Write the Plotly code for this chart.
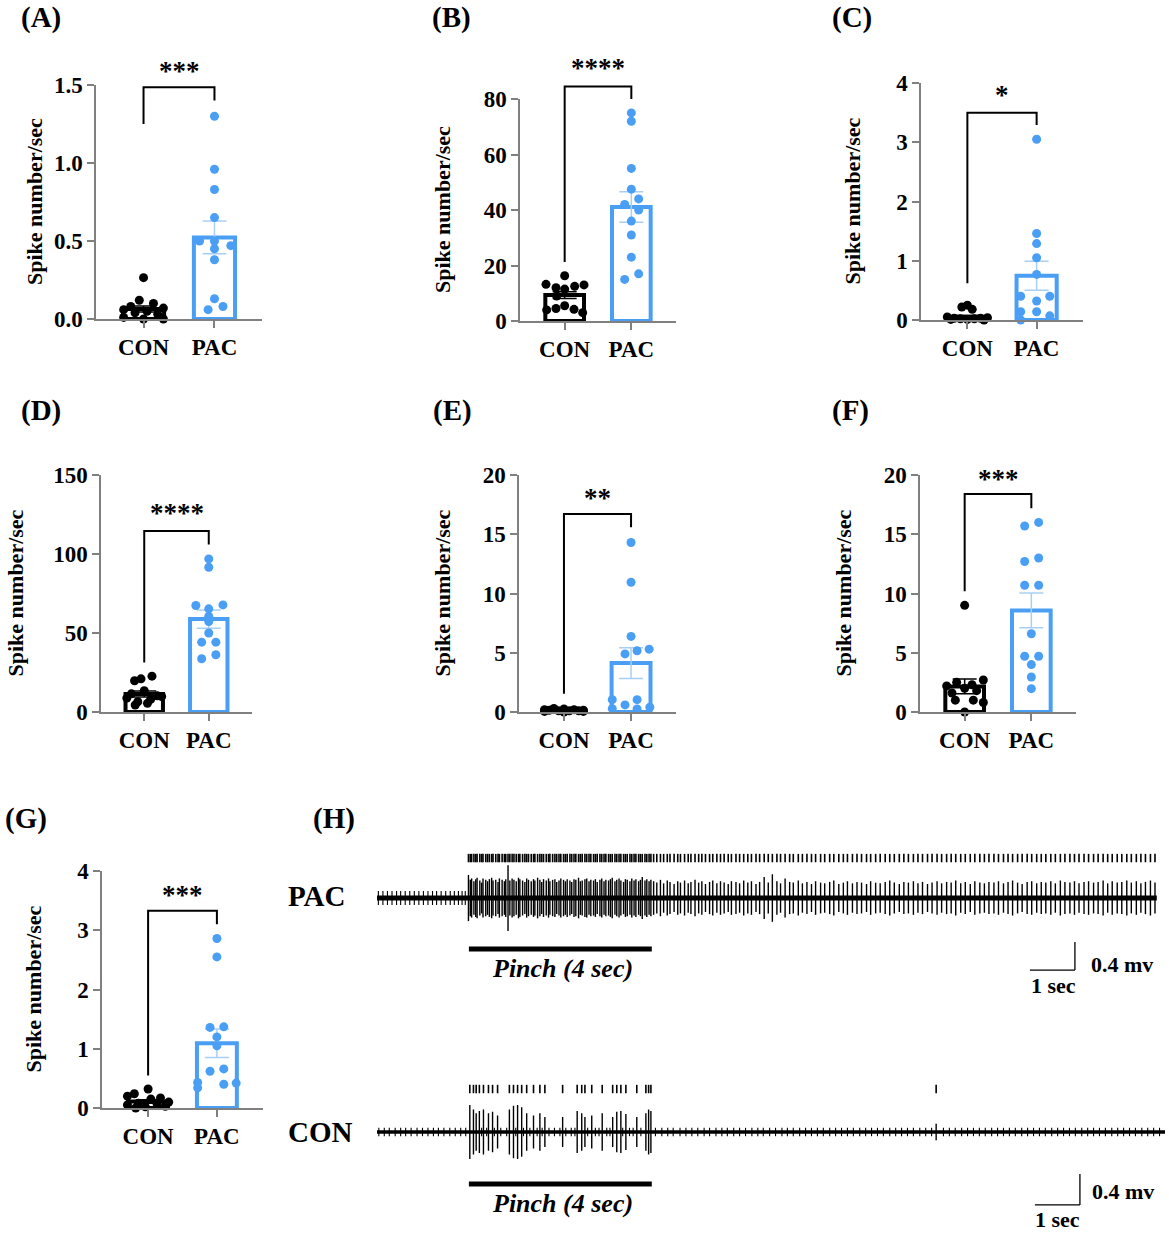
import plotly.graph_objects as go

W, H = 1169, 1233
FONT = "Liberation Serif"
BLUE = "#4a9ff5"
BLUE_ERR = "#a9cff5"
GREY = "#808080"

# ---------------- bar panels: values ----------------
GROUPS = ["CON", "PAC"]

A_CON = [0.265, 0.12, 0.10, 0.08, 0.07, 0.06, 0.05, 0.04, 0.03, 0.01, 0.0, 0.0]
A_PAC = [1.30, 0.96, 0.83, 0.65, 0.50, 0.50, 0.47, 0.45, 0.38, 0.13, 0.08, 0.06]
A_MEAN = [0.064, 0.523]
A_SEM = [0.019, 0.105]
A_TICKS = [0, 0.5, 1.0, 1.5]

B_CON = [16.3, 13.2, 13.0, 12.5, 12.0, 11.5, 9.0, 5.5, 4.5, 4.2, 4.0, 3.0]
B_PAC = [75.0, 72.0, 55.0, 47.5, 44.0, 42.0, 40.0, 36.0, 31.0, 23.0, 17.0, 15.0]
B_MEAN = [9.35, 41.1]
B_SEM = [1.2, 5.5]
B_TICKS = [0, 20, 40, 60, 80]

C_CON = [0.25, 0.22, 0.18, 0.05, 0.04, 0.03, 0.03, 0.02, 0.02, 0.01, 0.01, 0.0]
C_PAC = [3.05, 1.46, 1.29, 1.05, 0.77, 0.40, 0.40, 0.32, 0.14, 0.14, 0.07, 0.0]
C_MEAN = [0.056, 0.747]
C_SEM = [0.022, 0.245]
C_TICKS = [0, 1, 2, 3, 4]

D_CON = [22.7, 21.0, 19.8, 13.5, 11.5, 10.3, 9.8, 8.8, 8.0, 6.5, 5.5, 4.4]
D_PAC = [96.9, 91.6, 67.8, 67.4, 65.3, 60.5, 57.3, 50.0, 44.2, 44.2, 36.2, 33.7]
D_MEAN = [11.4, 58.8]
D_SEM = [1.9, 5.8]
D_TICKS = [0, 50, 100, 150]

E_CON = [0.30, 0.25, 0.20, 0.20, 0.15, 0.15, 0.10, 0.10, 0.10, 0.05, 0.05, 0.0]
E_PAC = [14.3, 10.95, 6.38, 5.3, 5.17, 4.9, 1.04, 1.04, 0.6, 0.28, 0.25, 0.4]
E_MEAN = [0.13, 4.13]
E_SEM = [0.03, 1.3]
E_TICKS = [0, 5, 10, 15, 20]

F_CON = [9.0, 2.7, 2.5, 2.3, 2.2, 2.0, 1.8, 1.6, 1.0, 1.0, 0.8, 0.0]
F_PAC = [16.0, 15.7, 13.0, 12.7, 10.7, 10.7, 6.6, 4.7, 4.7, 4.0, 2.95, 1.97]
F_MEAN = [2.16, 8.57]
F_SEM = [0.62, 1.47]
F_TICKS = [0, 5, 10, 15, 20]

G_CON = [0.32, 0.24, 0.20, 0.17, 0.15, 0.10, 0.08, 0.07, 0.05, 0.03, 0.02, 0.0]
G_PAC = [2.86, 2.55, 1.37, 1.36, 1.20, 1.05, 0.66, 0.62, 0.43, 0.42, 0.40, 0.34]
G_MEAN = [0.11, 1.094]
G_SEM = [0.03, 0.24]
G_TICKS = [0, 1, 2, 3, 4]

# significance: stars and bracket [left foot, top, right foot, star height]
STARS = {"A": "***", "B": "****", "C": "*", "D": "****", "E": "**", "F": "***", "G": "***"}
A_BRACKET = [1.25, 1.485, 1.40, 1.59]
B_BRACKET = [21.3, 84.5, 80.0, 91.0]
C_BRACKET = [0.62, 3.5, 3.29, 3.8]
D_BRACKET = [31.4, 114.6, 106.0, 126.0]
E_BRACKET = [1.55, 16.7, 15.6, 18.1]
F_BRACKET = [10.2, 18.4, 17.2, 19.7]
G_BRACKET = [0.55, 3.33, 3.1, 3.6]

# horizontal scatter of the dots (category units)
A_CON_DX = [0, -0.06, 0.14, -0.18, 0.28, -0.28, 0.05, -0.12, 0.2, -0.28, 0.0, 0.28]
A_PAC_DX = [0, 0, 0, 0, -0.21, 0, 0.23, 0, 0, 0, 0.12, -0.09]
B_CON_DX = [0, -0.28, 0.29, 0.15, -0.13, 0.0, -0.12, 0.0, -0.13, 0.14, -0.27, 0.27]
B_PAC_DX = [0, 0, 0, 0, 0.11, -0.1, 0.11, 0, 0, 0, 0.11, -0.1]
C_CON_DX = [0, -0.08, 0.07, -0.29, 0.29, -0.19, 0.19, -0.1, 0.1, 0.0, -0.24, 0.24]
C_PAC_DX = [0, 0, 0, 0, 0, -0.23, 0.19, 0, -0.23, 0, 0.19, -0.23]
D_CON_DX = [0.12, -0.05, -0.15, 0.0, -0.2, 0.2, 0.27, -0.27, 0.1, -0.1, 0.05, -0.14]
D_PAC_DX = [0, 0, 0.22, -0.2, 0, 0, 0, 0, -0.11, 0.11, 0.11, -0.11]
E_CON_DX = [-0.15, 0.0, -0.29, 0.15, 0.29, -0.22, 0.08, -0.08, 0.22, -0.29, 0.29, 0.0]
E_PAC_DX = [0, 0, 0, 0.27, 0.09, -0.09, -0.28, 0.09, -0.09, -0.28, 0.09, 0.28]
F_CON_DX = [0, 0.28, -0.12, 0.11, -0.27, 0, 0.18, -0.19, -0.14, 0.13, 0.28, 0]
F_PAC_DX = [0.11, -0.1, 0.11, -0.1, -0.1, 0.11, 0, -0.1, 0.11, 0, 0, 0]
G_CON_DX = [0, -0.2, -0.3, 0.18, 0.04, 0.3, -0.14, 0.13, -0.3, 0.25, -0.04, -0.18]
G_PAC_DX = [0, 0, 0.1, -0.1, 0, 0, 0.1, -0.1, -0.28, 0.28, 0.1, -0.28]

# ---------------- panel H: spike recordings (seconds, mV) ----------------
PINCH = [2.02, 6.04]
PAC_END = 17.14
CON_END = 17.32

PAC_NOISE_T = [0.03, 0.13, 0.23, 0.33, 0.43, 0.52, 0.62, 0.72, 0.82, 0.92, 1.02,
               1.12, 1.22, 1.31, 1.41, 1.51, 1.61, 1.70, 1.79, 1.87, 1.94]
PAC_PINCH_T = [2.01, 2.05, 2.08, 2.13, 2.17, 2.20, 2.26, 2.30, 2.33, 2.39,
               2.43, 2.47, 2.52, 2.55, 2.61, 2.66, 2.69, 2.75, 2.80, 2.83,
               2.88, 2.92, 2.97, 3.01, 3.06, 3.11, 3.14, 3.20, 3.25, 3.29,
               3.33, 3.39, 3.44, 3.47, 3.53, 3.58, 3.62, 3.66, 3.72, 3.77,
               3.80, 3.86, 3.91, 3.95, 4.00, 4.04, 4.10, 4.14, 4.18, 4.24,
               4.28, 4.33, 4.37, 4.43, 4.47, 4.51, 4.57, 4.61, 4.66, 4.70,
               4.76, 4.80, 4.84, 4.90, 4.94, 4.99, 5.03, 5.09, 5.13, 5.17,
               5.23, 5.27, 5.32, 5.36, 5.42, 5.46, 5.50, 5.56, 5.60, 5.65,
               5.69, 5.75, 5.79, 5.83, 5.89, 5.93, 5.98, 6.02]
PAC_PINCH_AMP = [0.33, 0.26, 0.28, 0.24, 0.27, 0.29, 0.25, 0.22, 0.28, 0.26,
                 0.24, 0.27, 0.29, 0.25, 0.26, 0.23, 0.28, 0.26, 0.24, 0.27,
                 0.47, 0.25, 0.28, 0.26, 0.24, 0.29, 0.27, 0.25, 0.23, 0.28,
                 0.26, 0.24, 0.27, 0.25, 0.29, 0.26, 0.23, 0.27, 0.25, 0.28,
                 0.24, 0.26, 0.27, 0.23, 0.25, 0.28, 0.26, 0.24, 0.27, 0.25,
                 0.23, 0.27, 0.26, 0.29, 0.24, 0.25, 0.27, 0.28, 0.24, 0.26,
                 0.25, 0.27, 0.23, 0.26, 0.28, 0.24, 0.26, 0.25, 0.27, 0.29,
                 0.24, 0.26, 0.28, 0.25, 0.23, 0.27, 0.26, 0.24, 0.28, 0.25,
                 0.27, 0.24, 0.26, 0.30, 0.25, 0.27, 0.24, 0.26]
PAC_POST_T = [6.08, 6.15, 6.23, 6.30, 6.38, 6.44, 6.53, 6.61, 6.67, 6.76,
              6.84, 6.90, 6.99, 7.07, 7.14, 7.22, 7.31, 7.38, 7.47, 7.55,
              7.63, 7.72, 7.79, 7.89, 7.97, 8.06, 8.15, 8.23, 8.33, 8.41,
              8.51, 8.60, 8.69, 8.79, 8.87, 8.97, 9.07, 9.15, 9.26, 9.35,
              9.45, 9.55, 9.64, 9.75, 9.84, 9.95, 10.04, 10.15, 10.25, 10.34,
              10.45, 10.55, 10.65, 10.76, 10.85, 10.96, 11.06, 11.17, 11.27, 11.37,
              11.48, 11.58, 11.68, 11.79, 11.89, 11.99, 12.10, 12.20, 12.31, 12.41,
              12.52, 12.62, 12.72, 12.83, 12.93, 13.04, 13.14, 13.25, 13.35, 13.45,
              13.56, 13.66, 13.77, 13.87, 13.97, 14.08, 14.18, 14.29, 14.39, 14.50,
              14.60, 14.70, 14.81, 14.91, 15.02, 15.12, 15.23, 15.33, 15.43, 15.54,
              15.64, 15.75, 15.85, 15.96, 16.06, 16.16, 16.27, 16.37, 16.48, 16.58,
              16.69, 16.79, 16.89, 17.00, 17.10]
PAC_POST_AMP = [0.24, 0.22, 0.26, 0.21, 0.25, 0.23, 0.20, 0.24, 0.22, 0.25,
                0.21, 0.23, 0.26, 0.22, 0.24, 0.20, 0.23, 0.25, 0.21, 0.24,
                0.22, 0.20, 0.24, 0.23, 0.21, 0.25, 0.22, 0.24, 0.20, 0.23,
                0.30, 0.22, 0.34, 0.24, 0.21, 0.28, 0.23, 0.22, 0.25, 0.21,
                0.23, 0.20, 0.24, 0.22, 0.21, 0.23, 0.25, 0.20, 0.22, 0.24,
                0.21, 0.23, 0.22, 0.20, 0.24, 0.22, 0.21, 0.23, 0.25, 0.22,
                0.20, 0.23, 0.22, 0.24, 0.21, 0.23, 0.20, 0.22, 0.24, 0.21,
                0.23, 0.22, 0.25, 0.21, 0.23, 0.20, 0.24, 0.22, 0.21, 0.23,
                0.22, 0.24, 0.21, 0.23, 0.25, 0.22, 0.20, 0.23, 0.24, 0.21,
                0.23, 0.22, 0.24, 0.21, 0.25, 0.23, 0.22, 0.24, 0.21, 0.23,
                0.24, 0.22, 0.23, 0.25, 0.21, 0.24, 0.22, 0.23, 0.25, 0.22,
                0.24, 0.21, 0.23, 0.25, 0.22]

CON_NOISE_T = [0.04, 0.16, 0.27, 0.40, 0.52, 0.63, 0.75, 0.88, 1.00, 1.12, 1.24, 1.35,
               1.47, 1.60, 1.72, 1.84, 1.95,
               2.30, 2.41, 2.58, 2.72, 2.85, 3.05, 3.22, 3.36, 3.52, 3.63, 3.78, 3.90,
               4.02, 4.15, 4.27, 4.35, 4.63, 4.80, 4.88, 5.05, 5.12, 5.40, 5.55, 5.63, 5.80,
               6.12, 6.26, 6.39, 6.51, 6.66, 6.79, 6.92, 7.05, 7.19, 7.31, 7.45, 7.58,
               7.70, 7.84, 7.97, 8.10, 8.24, 8.37, 8.49, 8.63, 8.76, 8.90, 9.02, 9.15,
               9.29, 9.42, 9.55, 9.68, 9.81, 9.95, 10.08, 10.21, 10.34, 10.47, 10.61,
               10.74, 10.87, 11.00, 11.13, 11.27, 11.40, 11.53, 11.66, 11.79, 11.93,
               12.06, 12.19, 12.45, 12.58, 12.71, 12.85, 12.98, 13.11, 13.24, 13.37,
               13.51, 13.64, 13.77, 13.90, 14.03, 14.17, 14.30, 14.43, 14.56, 14.69,
               14.83, 14.96, 15.09, 15.22, 15.35, 15.49, 15.62, 15.75, 15.88, 16.01,
               16.15, 16.28, 16.41, 16.54, 16.67, 16.81, 16.94, 17.07, 17.20]
CON_SPIKE_T = [2.04, 2.12, 2.18, 2.25, 2.34, 2.45, 2.54, 2.65, 2.91, 3.00,
               3.09, 3.18, 3.29, 3.44, 3.58, 3.69, 4.08, 4.40, 4.50, 4.57,
               4.72, 4.95, 5.18, 5.27, 5.36, 5.47, 5.71, 5.91, 5.97, 6.02, 12.29]
CON_SPIKE_AMP = [0.36, 0.30, 0.25, 0.28, 0.30, 0.25, 0.27, 0.22, 0.30, 0.35,
                 0.36, 0.33, 0.25, 0.22, 0.25, 0.20, 0.20, 0.28, 0.25, 0.20,
                 0.22, 0.25, 0.20, 0.27, 0.28, 0.24, 0.20, 0.25, 0.30, 0.28, 0.11]

# ---------------- layout geometry (pixels of the 1169 x 1233 page) ----------------
BOX = {  # y-axis x, x-axis end, top tick y, zero y
    "A": (96, 262, 85, 319), "B": (520, 676, 99, 321), "C": (921, 1083, 83, 320),
    "D": (101, 252, 475, 712), "E": (519, 676, 475, 712), "F": (920, 1076, 475, 712),
    "G": (102, 263, 871, 1108),
}
YTITLE_X = {"A": 35, "B": 442, "C": 852, "D": 15, "E": 442, "F": 843, "G": 33}
LETTER_POS = {"A": (41, 18), "B": (451, 18), "C": (852, 18), "D": (41, 411),
              "E": (452, 411), "F": (851, 411), "G": (26, 818), "H": (334, 818)}
XRANGE = [-0.67, 1.67]


def xp(px):
    return px / W


def yp(px):
    return 1 - px / H


def bold(size):
    return dict(family=FONT, size=size, color="black", weight="bold")


panels = [
    ("A", A_CON, A_PAC, A_CON_DX, A_PAC_DX, A_MEAN, A_SEM, A_TICKS, A_BRACKET),
    ("B", B_CON, B_PAC, B_CON_DX, B_PAC_DX, B_MEAN, B_SEM, B_TICKS, B_BRACKET),
    ("C", C_CON, C_PAC, C_CON_DX, C_PAC_DX, C_MEAN, C_SEM, C_TICKS, C_BRACKET),
    ("D", D_CON, D_PAC, D_CON_DX, D_PAC_DX, D_MEAN, D_SEM, D_TICKS, D_BRACKET),
    ("E", E_CON, E_PAC, E_CON_DX, E_PAC_DX, E_MEAN, E_SEM, E_TICKS, E_BRACKET),
    ("F", F_CON, F_PAC, F_CON_DX, F_PAC_DX, F_MEAN, F_SEM, F_TICKS, F_BRACKET),
    ("G", G_CON, G_PAC, G_CON_DX, G_PAC_DX, G_MEAN, G_SEM, G_TICKS, G_BRACKET),
]

fig = go.Figure()
layout = {}
shapes = []
annotations = []

for i, (key, con, pac, con_dx, pac_dx, mean, sem, ticks, br) in enumerate(panels, start=1):
    sfx = "" if i == 1 else str(i)
    xa, ya = "x" + sfx, "y" + sfx
    x0, x1, ytop, y0 = BOX[key]
    top = ticks[-1]
    colors = ["black", BLUE]
    errc = ["black", BLUE_ERR]
    for g in range(2):
        fig.add_trace(go.Bar(
            x=[g], y=[mean[g]], width=0.58, xaxis=xa, yaxis=ya,
            marker=dict(color="white", line=dict(color=colors[g], width=4)),
            error_y=dict(type="data", array=[sem[g]], color=errc[g], thickness=1.5, width=12),
            showlegend=False, hoverinfo="skip"))
    fig.add_trace(go.Scatter(
        x=[0 + d for d in con_dx], y=con, mode="markers", xaxis=xa, yaxis=ya,
        marker=dict(color="black", size=9), cliponaxis=False, showlegend=False))
    fig.add_trace(go.Scatter(
        x=[1 + d for d in pac_dx], y=pac, mode="markers", xaxis=xa, yaxis=ya,
        marker=dict(color=BLUE, size=9), cliponaxis=False, showlegend=False))

    layout["xaxis" + sfx] = dict(
        domain=[xp(x0), xp(x1)], range=XRANGE, anchor=ya, tickvals=[0, 1], ticktext=GROUPS,
        ticks="outside", ticklen=7, tickwidth=1.5, tickcolor=GREY, showline=True,
        linecolor=GREY, linewidth=1.5, showgrid=False, zeroline=False, tickfont=bold(23),
        automargin=False)
    layout["yaxis" + sfx] = dict(
        domain=[yp(y0), yp(ytop)], range=[0, top], anchor=xa, tickvals=ticks,
        tickformat=".1f" if key == "A" else "d",
        ticks="outside", ticklen=7, tickwidth=1.5, tickcolor=GREY, showline=True,
        linecolor=GREY, linewidth=1.5, showgrid=False, zeroline=False, tickfont=bold(23),
        automargin=False)

    left, high, right, star = br
    shapes.append(dict(
        type="path", xref=xa, yref=ya + " domain",
        path="M 0,%f L 0,%f L 1,%f L 1,%f" % (left / top, high / top, high / top, right / top),
        line=dict(color="black", width=2)))
    annotations.append(dict(
        x=0.5, y=star / top, xref=xa, yref=ya + " domain", text=STARS[key],
        showarrow=False, font=bold(27), xanchor="center", yanchor="middle"))
    annotations.append(dict(
        x=xp(YTITLE_X[key]), y=(yp(y0) + yp(ytop)) / 2, xref="paper", yref="paper",
        text="Spike number/sec", textangle=-90, showarrow=False, font=bold(22),
        xanchor="center", yanchor="middle"))

for key, (lx, ly) in LETTER_POS.items():
    annotations.append(dict(x=xp(lx), y=yp(ly), xref="paper", yref="paper",
                            text="(%s)" % key, showarrow=False, font=bold(29),
                            xanchor="center", yanchor="middle"))


# ---------------- panel H ----------------
def spike_lines(times, amps):
    xs, ys = [], []
    for t, a in zip(times, amps):
        xs += [t, t, None]
        ys += [-a, a, None]
    return xs, ys


H_ROWS = [
    ("8", PAC_END, PAC_NOISE_T, 10, 5, PAC_PINCH_T + PAC_POST_T, PAC_PINCH_AMP + PAC_POST_AMP,
     PAC_PINCH_T + PAC_POST_T, 0.571, -0.729, -1.0, (14.35, 15.34), (-1.029, -0.629),
     (15.65, -0.957), (14.88, -1.257), "PAC", (316, 896)),
    ("9", CON_END, CON_NOISE_T, 6, 3.5, CON_SPIKE_T, CON_SPIKE_AMP,
     CON_SPIKE_T, 0.573, -0.693, -0.96, (14.46, 15.45), (-0.973, -0.56),
     (15.67, -0.80), (14.95, -1.173), "CON", (320, 1132)),
]
H_YDOM = {"8": (1000, 840, [-1.457, 0.829]), "9": (1233, 1075, [-1.347, 0.76])}

for (n, end, noise_t, nsize, base_w, sp_t, sp_a, ras_t, ras_y, pinch_y, text_y,
     sbx, sby, mv_pos, sec_pos, label, lpos) in H_ROWS:
    xa, ya = "x" + n, "y" + n
    fig.add_trace(go.Scatter(x=[0, end], y=[0, 0], mode="lines", xaxis=xa, yaxis=ya,
                             line=dict(color="black", width=base_w), showlegend=False))
    fig.add_trace(go.Scatter(x=noise_t, y=[0] * len(noise_t), mode="markers", xaxis=xa, yaxis=ya,
                             marker=dict(symbol="line-ns", size=nsize, line=dict(color="black", width=1.1)),
                             showlegend=False))
    sx, sy = spike_lines(sp_t, sp_a)
    fig.add_trace(go.Scatter(x=sx, y=sy, mode="lines", xaxis=xa, yaxis=ya,
                             line=dict(color="black", width=1.4), showlegend=False))
    fig.add_trace(go.Scatter(x=ras_t, y=[ras_y] * len(ras_t), mode="markers", xaxis=xa, yaxis=ya,
                             marker=dict(symbol="line-ns", size=6, line=dict(color="black", width=1.6)),
                             showlegend=False))
    ybot, ytop, yr = H_YDOM[n]
    layout["xaxis" + n] = dict(domain=[xp(377), xp(1165)], range=[0, CON_END], anchor=ya,
                               visible=False)
    layout["yaxis" + n] = dict(domain=[yp(ybot), yp(ytop)], range=yr, anchor=xa, visible=False)

    shapes.append(dict(type="line", xref=xa, yref=ya, x0=PINCH[0], x1=PINCH[1],
                       y0=pinch_y, y1=pinch_y, line=dict(color="black", width=5)))
    shapes.append(dict(type="line", xref=xa, yref=ya, x0=sbx[0], x1=sbx[1],
                       y0=sby[0], y1=sby[0], line=dict(color="black", width=1.3)))
    shapes.append(dict(type="line", xref=xa, yref=ya, x0=sbx[1], x1=sbx[1],
                       y0=sby[0], y1=sby[1], line=dict(color="black", width=1.3)))
    annotations.append(dict(x=4.07, y=text_y, xref=xa, yref=ya, text="Pinch (4 sec)",
                            showarrow=False, xanchor="center", yanchor="middle",
                            font=dict(family=FONT, size=26, color="black", weight="bold", style="italic")))
    annotations.append(dict(x=mv_pos[0], y=mv_pos[1], xref=xa, yref=ya, text="0.4 mv",
                            xanchor="left", yanchor="middle", showarrow=False, font=bold(22)))
    annotations.append(dict(x=sec_pos[0], y=sec_pos[1], xref=xa, yref=ya, text="1 sec",
                            xanchor="center", yanchor="middle", showarrow=False, font=bold(22)))
    annotations.append(dict(x=xp(lpos[0]), y=yp(lpos[1]), xref="paper", yref="paper",
                            text=label, showarrow=False, font=bold(29),
                            xanchor="center", yanchor="middle"))

fig.update_layout(
    width=W, height=H, autosize=False,
    margin=dict(l=0, r=0, t=0, b=0, pad=0, autoexpand=False),
    paper_bgcolor="white", plot_bgcolor="white", barmode="overlay",
    shapes=shapes, annotations=annotations, showlegend=False, **layout)

fig.write_html("out.html", config={"displayModeBar": False},
               post_script="document.body.style.margin='0';document.body.style.overflow='hidden';")
